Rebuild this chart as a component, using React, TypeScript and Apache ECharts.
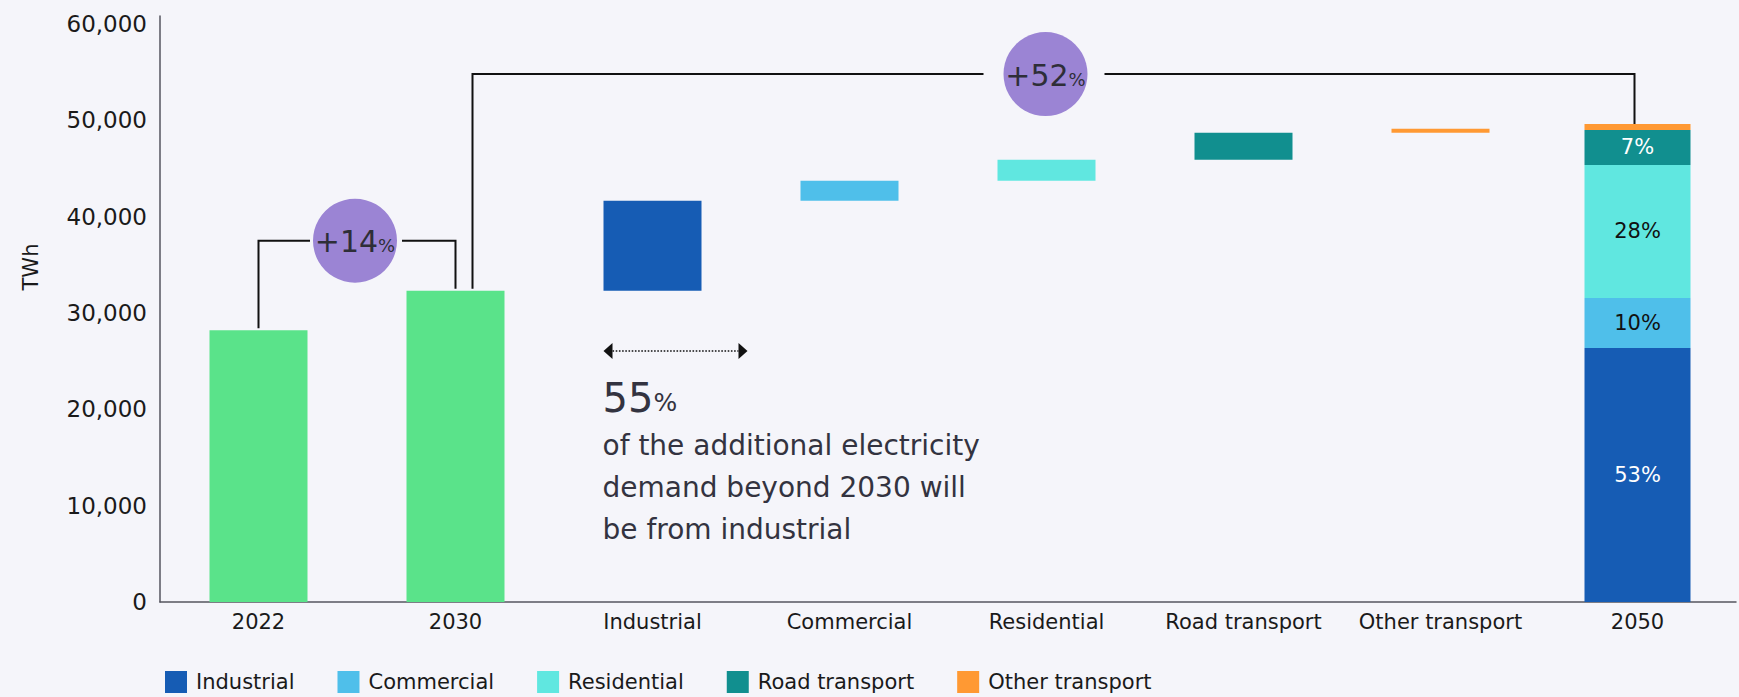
import React, { useEffect, useRef } from "react";
import * as echarts from "echarts";

// ---------- data ----------
const categories = ["2022", "2030", "Industrial", "Commercial", "Residential", "Road transport", "Other transport", "2050"];
const totalYears = [28200, 32300]; // 2022, 2030 (TWh)
const segmentNames = ["Industrial", "Commercial", "Residential", "Road transport", "Other transport"];
const increments2030to2050 = [9340, 2080, 2180, 2800, 420];
const stack2050 = [26370, 5190, 13810, 3630, 620];
const share2050Labels = ["53%", "10%", "28%", "7%", ""];
const yMin = 0;
const yInterval = 10000;
const yMaxTick = 60000;
const growthLabels = ["+14", "+52"];
const annotationPct = "55";
const annotationLines = [
  "of the additional electricity",
  "demand beyond 2030 will",
  "be from industrial",
];
const yAxisName = "TWh";

// ---------- styles ----------
const FONT = "DejaVu Sans";
const BG = "#F5F5FA";
const GREEN = "#5AE38A";
const segColors = ["#165CB4", "#4FBFEA", "#60E7E0", "#118F8F", "#FF9933"];
const segLabelColors = ["#ffffff", "#111111", "#111111", "#ffffff", "#111111"];
const PURPLE = "#9B84D4";
const TEXT = "#1a1a1a";
const AXIS = "#55555f";

export default function App() {
  const ref = useRef<HTMLDivElement>(null);

  useEffect(() => {
    if (!ref.current) return;
    const chart = echarts.init(ref.current, null, { renderer: "svg" });

    // waterfall bases
    const base: any[] = ["-", "-"];
    const change: any[] = [
      { value: totalYears[0], itemStyle: { color: GREEN } },
      { value: totalYears[1], itemStyle: { color: GREEN } },
    ];
    let running = totalYears[1];
    increments2030to2050.forEach((inc, i) => {
      base.push(running);
      change.push({ value: inc, itemStyle: { color: segColors[i] } });
      running += inc;
    });
    base.push("-");
    change.push("-");

    const n = categories.length;
    const seg2050Series = segmentNames.map((name, i) => {
      const data: any[] = new Array(n).fill("-");
      data[n - 1] = stack2050[i];
      return {
        name,
        type: "bar",
        xAxisIndex: 1,
        yAxisIndex: 0,
        stack: "s2050",
        barWidth: 106,
        data,
        itemStyle: { color: segColors[i] },
        label: {
          show: share2050Labels[i] !== "",
          position: "inside",
          formatter: () => share2050Labels[i],
          color: segLabelColors[i],
          fontFamily: FONT,
          fontSize: 21,
        },
        emphasis: { disabled: true },
      };
    });

    const option: any = {
      animation: false,
      backgroundColor: BG,
      textStyle: { fontFamily: FONT },
      grid: { left: 160, right: 3, top: 16, bottom: 95, containLabel: false },
      legend: {
        data: segmentNames,
        left: 160,
        top: 666,
        icon: "rect",
        itemWidth: 22,
        itemHeight: 22,
        itemGap: 43,
        textStyle: { fontFamily: FONT, fontSize: 21, color: TEXT, padding: [0, 0, 0, 4] },
        selectedMode: false,
      },
      xAxis: [
        {
          type: "category",
          data: categories,
          axisLine: { lineStyle: { color: AXIS, width: 1.5 } },
          axisTick: { show: false },
          axisLabel: { color: TEXT, fontFamily: FONT, fontSize: 21, margin: 9, interval: 0 },
        },
        { type: "category", data: categories, show: false },
      ],
      yAxis: {
        type: "value",
        min: yMin,
        max: 60830,
        interval: yInterval,
        splitLine: { show: false },
        axisLine: { show: true, lineStyle: { color: AXIS, width: 1.5 } },
        axisTick: { show: false },
        axisLabel: {
          color: TEXT,
          fontFamily: FONT,
          fontSize: 23,
          margin: 13,
          showMaxLabel: false,
          formatter: (v: number) => (v <= yMaxTick ? v.toLocaleString("en-US") : ""),
        },
      },
      series: [
        {
          name: "base",
          type: "bar",
          stack: "wf",
          barWidth: 98,
          data: base,
          itemStyle: { color: "transparent" },
          silent: true,
          emphasis: { disabled: true },
        },
        {
          name: "change",
          type: "bar",
          stack: "wf",
          barWidth: 98,
          data: change,
          emphasis: { disabled: true },
        },
        ...seg2050Series,
      ],
    };
    chart.setOption(option);

    const px = (i: number, v: number) =>
      chart.convertToPixel({ xAxisIndex: 0, yAxisIndex: 0 } as any, [i, v]) as number[];

    const total2050 = stack2050.reduce((a, b) => a + b, 0);
    const p2022 = px(0, totalYears[0]);
    const p2030 = px(1, totalYears[1]);
    const p2050 = px(n - 1, total2050);
    const pInd = px(2, totalYears[1]);
    const ySmall = px(0, 37500)[1];
    const yBig = px(0, 54800)[1];

    const lineStyle = { stroke: "#111111", lineWidth: 2, fill: null };
    const R = 42;
    const circleText = (cx: number, cy: number, t: string) => [
      { type: "circle", shape: { cx, cy, r: R }, style: { fill: PURPLE }, z: 10 },
      {
        type: "text",
        x: cx,
        y: cy + 1,
        z: 11,
        style: {
          text: `{a|${t}}{b|%}`,
          align: "center",
          verticalAlign: "middle",
          rich: {
            a: { fontFamily: FONT, fontSize: 30, fill: "#2e2e38", verticalAlign: "bottom" },
            b: { fontFamily: FONT, fontSize: 18, fill: "#2e2e38", verticalAlign: "bottom", padding: [0, 0, 2, 0] },
          },
        },
      },
    ];

    // small bracket (2022 -> 2030)
    const xs0 = p2022[0];
    const xs1 = p2030[0];
    const cxs = (xs0 + xs1) / 2 - 2;
    // big bracket (2030 -> 2050)
    const xb0 = p2030[0] + 17;
    const xb1 = p2050[0] - 3;
    const cxb = (xb0 + xb1) / 2 - 8;

    const xl = pInd[0] - 49;
    const arrowY = 351;
    const arrowL = xl;
    const arrowR = xl + 144;

    const graphic: any[] = [
      { type: "polyline", shape: { points: [[xs0, p2022[1] - 2], [xs0, ySmall], [cxs - R - 3, ySmall]] }, style: lineStyle },
      { type: "polyline", shape: { points: [[cxs + R + 5, ySmall], [xs1, ySmall], [xs1, p2030[1] - 2]] }, style: lineStyle },
      ...circleText(cxs, ySmall, growthLabels[0]),
      { type: "polyline", shape: { points: [[xb0, p2030[1] - 2], [xb0, yBig], [cxb - R - 20, yBig]] }, style: lineStyle },
      { type: "polyline", shape: { points: [[cxb + R + 17, yBig], [xb1, yBig], [xb1, p2050[1]]] }, style: lineStyle },
      ...circleText(cxb, yBig, growthLabels[1]),
      // dotted double arrow
      {
        type: "line",
        shape: { x1: arrowL + 9, y1: arrowY, x2: arrowR - 9, y2: arrowY },
        style: { stroke: "#111111", lineWidth: 1.6, lineDash: [1.6, 1.6] },
      },
      { type: "polygon", shape: { points: [[arrowL, arrowY], [arrowL + 9, arrowY - 8], [arrowL + 9, arrowY + 8]] }, style: { fill: "#111111" } },
      { type: "polygon", shape: { points: [[arrowR, arrowY], [arrowR - 9, arrowY - 8], [arrowR - 9, arrowY + 8]] }, style: { fill: "#111111" } },
      {
        type: "text",
        x: xl - 1,
        y: 398,
        style: {
          text: `{a|${annotationPct}}{b|%}`,
          align: "left",
          verticalAlign: "middle",
          rich: {
            a: { fontFamily: FONT, fontSize: 40, fill: "#333340", verticalAlign: "bottom" },
            b: { fontFamily: FONT, fontSize: 25, fill: "#333340", verticalAlign: "bottom", padding: [0, 0, 3, 0] },
          },
        },
      },
      {
        type: "text",
        x: xl - 1,
        y: 424,
        style: {
          text: annotationLines.join("\n"),
          fontFamily: FONT,
          fontSize: 28,
          lineHeight: 42,
          fill: "#333340",
          align: "left",
          verticalAlign: "top",
        },
      },
      {
        type: "text",
        x: 31,
        y: 267,
        rotation: Math.PI / 2,
        style: {
          text: yAxisName,
          fontFamily: FONT,
          fontSize: 21,
          fill: TEXT,
          align: "center",
          verticalAlign: "middle",
        },
      },
    ];
    chart.setOption({ graphic });

    return () => chart.dispose();
  }, []);

  return (
    <div
      ref={ref}
      style={{ position: "fixed", left: 0, top: 0, width: 1739, height: 697, background: BG }}
    />
  );
}
